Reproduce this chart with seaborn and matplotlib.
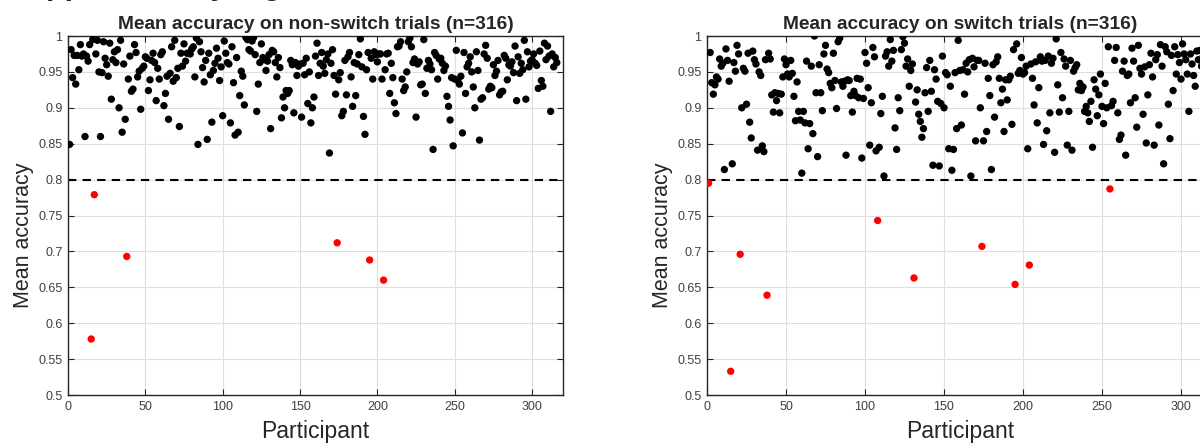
#!/usr/bin/env python3
"""Mean accuracy per participant, non-switch vs switch trials."""
import matplotlib
matplotlib.use("Agg")
import matplotlib.pyplot as plt
import matplotlib.ticker as mticker
import numpy as np
import pandas as pd
import seaborn as sns

THRESHOLD = 0.8
X_TICKS = [0, 50, 100, 150, 200, 250, 300]
Y_TICKS = [0.5, 0.55, 0.6, 0.65, 0.7, 0.75, 0.8, 0.85, 0.9, 0.95, 1.0]

# mean accuracy, participants 1..316
nonswitch_acc = [
    0.849, 0.981, 0.942, 0.973, 0.933, 0.973, 0.953, 0.988, 0.972, 0.975,
    0.860, 0.972, 0.965, 0.988, 0.578, 0.995, 0.779, 0.975, 0.994, 0.950,
    0.860, 0.949, 0.992, 0.969, 0.960, 0.944, 0.990, 0.912, 0.967, 0.978,
    0.963, 0.981, 0.900, 0.994, 0.866, 0.961, 0.884, 0.693, 0.940, 0.972,
    0.923, 0.926, 0.988, 0.977, 0.943, 0.951, 0.898, 0.955, 0.958, 0.971,
    0.969, 0.924, 0.939, 0.966, 0.976, 0.963, 0.910, 0.955, 0.940, 0.974,
    0.978, 0.903, 0.920, 0.944, 0.884, 0.948, 0.985, 0.937, 0.994, 0.942,
    0.955, 0.874, 0.976, 0.958, 0.989, 0.965, 0.976, 0.976, 0.975, 0.982,
    0.985, 0.943, 0.997, 0.849, 0.992, 0.978, 0.956, 0.936, 0.966, 0.856,
    0.976, 0.946, 0.880, 0.952, 0.962, 0.983, 0.969, 0.938, 0.957, 0.889,
    0.993, 0.976, 0.963, 0.961, 0.879, 0.985, 0.935, 0.862, 0.970, 0.866,
    0.917, 0.951, 0.944, 0.904, 0.998, 0.995, 0.981, 0.979, 0.993, 0.998,
    0.974, 0.895, 0.933, 0.963, 0.989, 0.970, 0.967, 0.952, 0.965, 0.974,
    0.871, 0.980, 0.978, 0.963, 0.943, 0.970, 0.956, 0.886, 0.915, 0.900,
    0.924, 0.920, 0.924, 0.966, 0.960, 0.893, 0.963, 0.945, 0.958, 0.961,
    0.887, 0.962, 0.946, 0.969, 0.906, 0.950, 0.879, 0.900, 0.915, 0.972,
    0.990, 0.945, 0.962, 0.977, 0.958, 0.948, 0.967, 0.975, 0.837, 0.962,
    0.981, 0.945, 0.919, 0.712, 0.939, 0.949, 0.889, 0.895, 0.966, 0.918,
    0.971, 0.977, 0.943, 0.902, 0.963, 0.917, 0.961, 0.974, 0.996, 0.957,
    0.888, 0.863, 0.953, 0.977, 0.688, 0.969, 0.940, 0.978, 0.974, 0.964,
    0.975, 0.975, 0.940, 0.660, 0.953, 0.975, 0.976, 0.920, 0.962, 0.942,
    0.907, 0.892, 0.985, 0.986, 0.992, 0.940, 0.924, 0.929, 0.950, 0.992,
    0.997, 0.985, 0.963, 0.968, 0.887, 0.961, 0.964, 0.932, 0.933, 0.995,
    0.920, 0.955, 0.966, 0.961, 0.953, 0.842, 0.977, 0.973, 0.940, 0.968,
    0.969, 0.962, 0.952, 0.958, 0.916, 0.902, 0.883, 0.942, 0.847, 0.940,
    0.980, 0.938, 0.933, 0.944, 0.865, 0.977, 0.920, 0.957, 0.962, 0.971,
    0.950, 0.929, 0.900, 0.978, 0.952, 0.855, 0.912, 0.914, 0.975, 0.987,
    0.969, 0.926, 0.930, 0.928, 0.960, 0.945, 0.951, 0.966, 0.918, 0.922,
    0.923, 0.973, 0.969, 0.939, 0.960, 0.958, 0.964, 0.949, 0.986, 0.910,
    0.971, 0.948, 0.962, 0.953, 0.994, 0.912, 0.978, 0.957, 0.965, 0.967,
    0.975, 0.962, 0.959, 0.927, 0.979, 0.938, 0.930, 0.990, 0.967, 0.986,
    0.972, 0.895, 0.975, 0.957, 0.970, 0.963,
]

switch_acc = [
    0.795, 0.977, 0.935, 0.919, 0.932, 0.943, 0.940, 0.968, 0.958, 0.962,
    0.814, 0.982, 0.966, 0.937, 0.533, 0.822, 0.963, 0.951, 0.987, 0.975,
    0.696, 0.900, 0.955, 0.951, 0.905, 0.976, 0.880, 0.858, 0.979, 0.967,
    0.961, 0.841, 0.950, 0.945, 0.847, 0.839, 0.967, 0.639, 0.976, 0.968,
    0.918, 0.894, 0.921, 0.910, 0.920, 0.893, 0.919, 0.943, 0.968, 0.960,
    0.947, 0.943, 0.966, 0.948, 0.916, 0.882, 0.936, 0.895, 0.883, 0.809,
    0.895, 0.879, 0.965, 0.843, 0.878, 0.958, 0.864, 1.000, 0.921, 0.832,
    0.960, 0.921, 0.896, 0.975, 0.987, 0.954, 0.949, 0.934, 0.928, 0.976,
    0.938, 0.899, 0.992, 0.997, 0.936, 0.930, 0.937, 0.834, 0.939, 0.938,
    0.917, 0.894, 0.923, 0.917, 0.941, 0.914, 0.940, 0.830, 0.913, 0.977,
    0.962, 0.928, 0.848, 0.907, 0.984, 0.971, 0.840, 0.743, 0.845, 0.892,
    0.916, 0.805, 0.972, 0.978, 0.958, 0.995, 0.965, 0.980, 0.872, 0.842,
    0.914, 0.896, 0.981, 0.999, 0.990, 0.958, 0.968, 0.930, 0.952, 0.961,
    0.663, 0.908, 0.925, 0.891, 0.881, 0.859, 0.871, 0.921, 0.956, 0.895,
    0.966, 0.923, 0.820, 0.953, 0.940, 0.909, 0.819, 0.906, 0.972, 0.900,
    0.949, 0.946, 0.843, 0.930, 0.813, 0.842, 0.949, 0.871, 0.994, 0.952,
    0.876, 0.953, 0.919, 0.962, 0.950, 0.967, 0.805, 0.969, 0.957, 0.854,
    0.966, 0.966, 0.900, 0.707, 0.854, 0.962, 0.867, 0.941, 0.917, 0.814,
    0.960, 0.887, 0.964, 0.971, 0.941, 0.907, 0.926, 0.867, 0.939, 0.911,
    0.939, 0.944, 0.877, 0.981, 0.654, 0.989, 0.948, 0.952, 0.970, 0.947,
    0.949, 0.958, 0.843, 0.681, 0.961, 0.941, 0.904, 0.964, 0.879, 0.928,
    0.971, 0.965, 0.849, 0.966, 0.868, 0.972, 0.893, 0.962, 0.969, 0.838,
    0.996, 0.932, 0.894, 0.977, 0.914, 0.968, 0.958, 0.848, 0.895, 0.966,
    0.841, 0.951, 0.956, 0.960, 0.925, 0.934, 0.924, 0.929, 0.895, 0.902,
    0.893, 0.881, 0.909, 0.845, 0.939, 0.926, 0.889, 0.918, 0.947, 0.902,
    0.878, 0.934, 0.900, 0.985, 0.787, 0.903, 0.909, 0.966, 0.984, 0.893,
    0.856, 0.862, 0.951, 0.965, 0.834, 0.945, 0.947, 0.907, 0.983, 0.965,
    0.914, 0.873, 0.987, 0.955, 0.947, 0.891, 0.957, 0.851, 0.918, 0.960,
    0.976, 0.943, 0.848, 0.967, 0.974, 0.876, 0.988, 0.958, 0.822, 0.985,
    0.978, 0.905, 0.857, 0.973, 0.924, 0.985, 0.947, 0.974, 0.963, 0.940,
    0.989, 0.975, 0.967, 0.947, 0.895, 0.975, 0.961, 0.945, 0.930, 0.979,
    0.967, 0.980, 0.958, 0.972, 0.960, 0.950,
]

panels = [
    ("Mean accuracy on non-switch trials (n=316)", nonswitch_acc),
    ("Mean accuracy on switch trials (n=316)", switch_acc),
]

sns.set_style("white")
plt.rcParams["font.family"] = ["Liberation Sans", "DejaVu Sans"]

fig = plt.figure(figsize=(12, 4.44), dpi=100)
# axes placed by hand: the right panel runs off the edge like the source image
rects = [
    [68 / 1200, 49 / 444, 495 / 1200, 359 / 444],
    [707 / 1200, 49 / 444, 505.6 / 1200, 359 / 444],
]

for rect, (title, acc) in zip(rects, panels):
    ax = fig.add_axes(rect)
    df = pd.DataFrame({"participant": np.arange(1, len(acc) + 1), "acc": acc})
    df["below"] = df["acc"] < THRESHOLD

    ax.axhline(THRESHOLD, color="black", ls=(0, (4, 3)), lw=1.5, zorder=2)
    sns.scatterplot(data=df, x="participant", y="acc", hue="below",
                    palette={False: "black", True: "red"}, s=28,
                    edgecolor="none", legend=False, ax=ax, zorder=3)

    ax.set_xlim(0, 320)
    ax.set_ylim(0.5, 1.0)
    ax.set_xticks(X_TICKS)
    ax.set_yticks(Y_TICKS)
    ax.yaxis.set_major_formatter(mticker.FuncFormatter(lambda v, _: f"{v:g}"))
    ax.grid(True, color="#dedede", lw=0.8, zorder=0)
    ax.set_axisbelow(True)
    ax.tick_params(direction="in", length=4, width=0.8, color="#262626",
                   labelsize=9, labelcolor="#404040", top=True, right=True,
                   bottom=True, left=True, pad=4)
    for sp in ax.spines.values():
        sp.set_color("#262626")
        sp.set_linewidth(1.0)

    ax.set_title(title, fontsize=13.8, fontweight="bold", pad=5)
    ax.set_xlabel("Participant", fontsize=16.5, color="#262626", labelpad=5)
    ax.set_ylabel("Mean accuracy", fontsize=15.5, color="#262626")
    ax.yaxis.set_label_coords(-0.068, 0.446)

# heading clipped at the top edge of the source image
fig.text(0.006, 1.0 + 6.5 / 444, "Supplementary Figure 4", fontsize=22,
         fontweight="bold", va="baseline", ha="left")

fig.savefig("out.png", dpi=100)
